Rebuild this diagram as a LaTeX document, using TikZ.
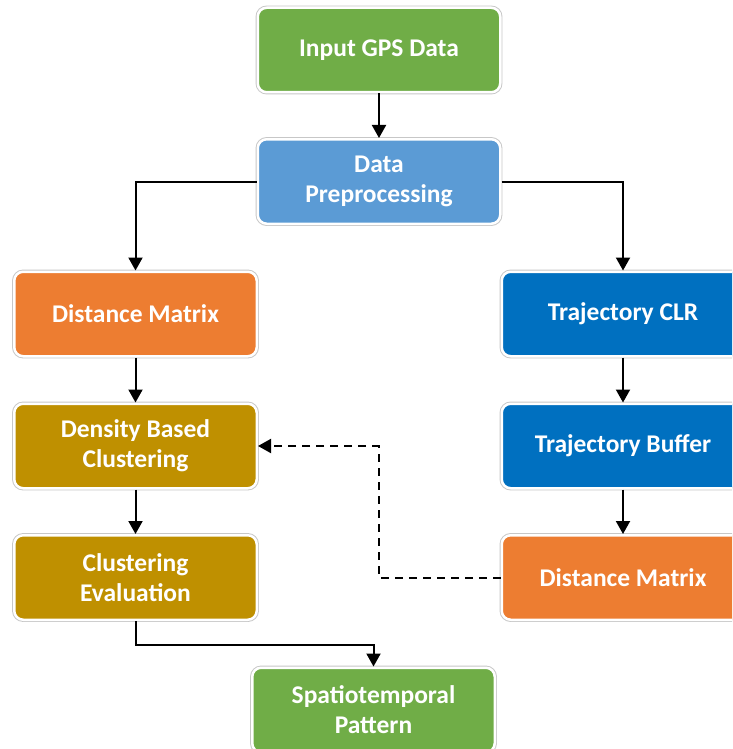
\documentclass[tikz,border=0pt]{standalone}
\usepackage{fontspec}
\setmainfont{Carlito}
\usetikzlibrary{arrows.meta}
\definecolor{cgreen}{HTML}{70AD47}
\definecolor{cblue}{HTML}{5B9BD5}
\definecolor{corange}{HTML}{ED7D31}
\definecolor{cdblue}{HTML}{0070C0}
\definecolor{cgold}{HTML}{BF9000}
\tikzset{
  flowbox/.style={rounded corners=9pt, minimum width=242.5pt, minimum height=84.5pt,
    inner sep=0pt, align=center, text=white, font=\fontsize{25.5}{30}\selectfont\bfseries,
    preaction={draw=black!22, line width=4.4pt}, draw=white, line width=2.5pt, fill=#1},
  conn/.style={line width=2pt, -{Triangle[width=14pt,length=13pt]}},
  dconn/.style={conn, dash pattern=on 8pt off 6pt}
}
\begin{document}
\begin{tikzpicture}[x=1pt,y=-1pt]
\useasboundingbox (0,0) rectangle (732,749);
\clip (0,0) rectangle (732,749);
\node[flowbox=cgreen] (in) at (379,50) {Input GPS Data};
\node[flowbox=cblue] (pre) at (379,181.5) {Data\\Preprocessing};
\node[flowbox=corange] (dmL) at (135.5,314) {Distance Matrix};
\node[flowbox=cgold] (dbc) at (135.5,446) {Density Based\\Clustering};
\node[flowbox=cgold] (ce) at (135.5,577.5) {Clustering\\Evaluation};
\node[flowbox=cdblue] (clr) at (623,314) {Trajectory CLR};
\node[flowbox=cdblue] (tb) at (623,446) {Trajectory Buffer};
\node[flowbox=corange] (dmR) at (623,577.5) {Distance Matrix};
\node[flowbox=cgreen] (sp) at (373.5,710) {Spatiotemporal\\Pattern};
\draw[conn] (in.south) -- (pre.north);
\draw[conn] (pre.west) -| (dmL.north);
\draw[conn] (pre.east) -| (clr.north);
\draw[conn] (dmL.south) -- (dbc.north);
\draw[conn] (dbc.south) -- (ce.north);
\draw[conn] (clr.south) -- (tb.north);
\draw[conn] (tb.south) -- (dmR.north);
\draw[conn] (ce.south) -- ++(0,24) -| (sp.north);
\draw[dconn] (dmR.west) -- ++(-122,0) |- (dbc.east);
\end{tikzpicture}
\end{document}
